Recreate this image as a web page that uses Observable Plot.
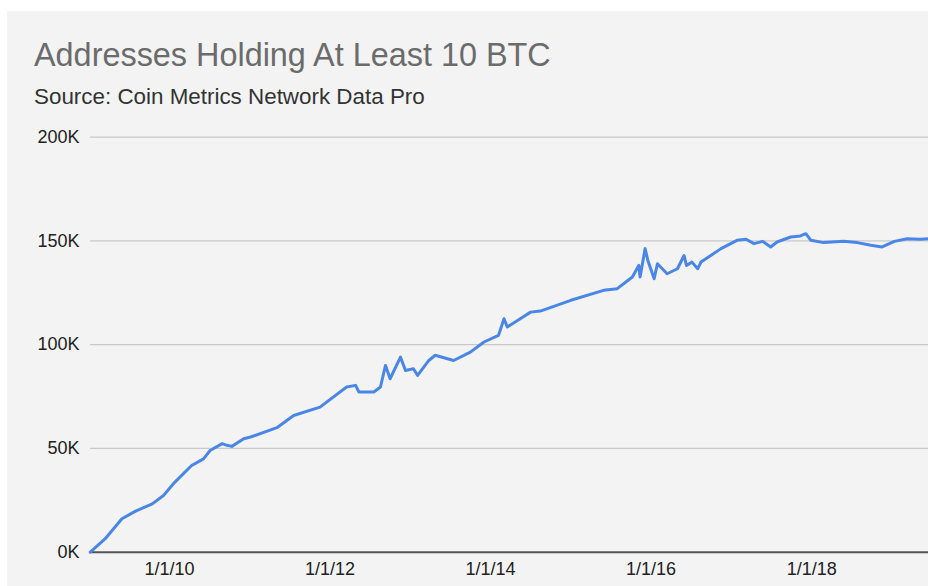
<!DOCTYPE html>
<html>
<head>
<meta charset="utf-8">
<script src="https://cdn.jsdelivr.net/npm/d3@7"></script>
<script src="https://cdn.jsdelivr.net/npm/@observablehq/plot@0.6"></script>
<style>
  body { margin: 0; background: #fff; width: 928px; height: 586px; overflow: hidden; position: relative; font-family: "Liberation Sans", Arial, sans-serif; }
  #panel { position: absolute; left: 7px; top: 11px; right: 0; bottom: 0; background: #f3f3f3; }
  #title { position: absolute; left: 34px; top: 39px; font-size: 32.4px; line-height: 1; color: #6b6b6b; white-space: nowrap; }
  #subtitle { position: absolute; left: 34px; top: 86px; font-size: 22.4px; line-height: 1; color: #333; white-space: nowrap; }
  #chart { position: absolute; left: 0; top: 0; }
</style>
</head>
<body>
<div id="panel"></div>
<div id="title">Addresses Holding At Least 10 BTC</div>
<div id="subtitle">Source: Coin Metrics Network Data Pro</div>
<div id="chart"></div>
<script>
const dates = [
  "2009-01-06","2009-03-15","2009-05-30","2009-07-31","2009-10-15","2009-12-05",
  "2010-01-26","2010-04-12","2010-06-05","2010-07-05","2010-08-29","2010-09-20","2010-10-12","2010-12-05",
  "2011-01-05","2011-05-05","2011-07-20","2011-11-17",
  "2012-03-17","2012-04-27","2012-05-12","2012-07-19","2012-08-18","2012-09-10","2012-10-01","2012-11-17","2012-12-10",
  "2013-01-15","2013-02-03","2013-03-26","2013-04-24","2013-07-17","2013-10-01","2013-12-02",
  "2014-02-06","2014-03-03","2014-03-18","2014-05-16","2014-07-02","2014-08-15",
  "2015-01-01","2015-05-30","2015-07-31","2015-10-08","2015-11-06","2015-11-12","2015-12-05","2015-12-17",
  "2016-01-15","2016-01-30","2016-03-14","2016-04-30","2016-05-30","2016-06-10","2016-07-05","2016-07-31","2016-08-15","2016-11-14",
  "2017-01-26","2017-03-08","2017-04-13","2017-05-23","2017-06-28","2017-07-27","2017-09-27","2017-11-10","2017-12-05","2017-12-28",
  "2018-02-24","2018-05-26","2018-07-27","2018-09-27","2018-11-17",
  "2019-01-12","2019-03-10","2019-05-11","2019-06-17"
];
const values = [
  0, 6500, 16100, 19800, 23300, 27300,
  33800, 41800, 45000, 49000, 52300, 51500, 51000, 54700,
  55500, 60000, 65900, 69900,
  79600, 80400, 77200, 77200, 79600, 90000, 83600, 94000, 87600,
  88400, 85200, 92400, 94900, 92400, 96400, 101300,
  104500, 112500, 108500, 112500, 115700, 116200,
  121400, 126200, 127000, 132600, 138200, 132600, 146300, 140700,
  131800, 139000, 134200, 136600, 143000, 138200, 139800, 136600, 139800, 146300,
  150300, 150800, 148700, 149800, 147100, 149500, 151900, 152400, 153500, 150300,
  149200, 149800, 149200, 147900, 147100,
  149800, 151100, 150800, 151100
];
const xTicks = ["2010-01-01", "2012-01-01", "2014-01-01", "2016-01-01", "2018-01-01"];
const yTicks = [0, 50000, 100000, 150000, 200000];

const data = dates.map((d, i) => ({date: new Date(d), value: values[i]}));

const chart = Plot.plot({
  width: 928,
  height: 586,
  marginLeft: 90,
  marginRight: 0,
  marginTop: 136.7,
  marginBottom: 34.3,
  style: {background: "transparent", fontFamily: "'Liberation Sans', Arial, sans-serif", fontSize: "18px", color: "#222"},
  x: {
    type: "utc",
    domain: [new Date("2009-01-07"), new Date("2019-06-16")],
    ticks: xTicks.map(d => new Date(d)),
    tickFormat: d3.utcFormat("%-m/%-d/%y"),
    tickSize: 0,
    tickPadding: 10,
    label: null
  },
  y: {
    domain: [0, 200000],
    ticks: yTicks,
    tickFormat: d => d / 1000 + "K",
    tickSize: 0,
    tickPadding: 11,
    label: null
  },
  marks: [
    Plot.ruleY(yTicks.filter(d => d > 0), {stroke: "#c8c8c8", strokeWidth: 1.3}),
    Plot.ruleY([0], {stroke: "#555", strokeWidth: 2}),
    Plot.line(data, {x: "date", y: "value", stroke: "#4a86e8", strokeWidth: 3, strokeLinejoin: "round"})
  ]
});
document.getElementById("chart").appendChild(chart);
</script>
</body>
</html>
